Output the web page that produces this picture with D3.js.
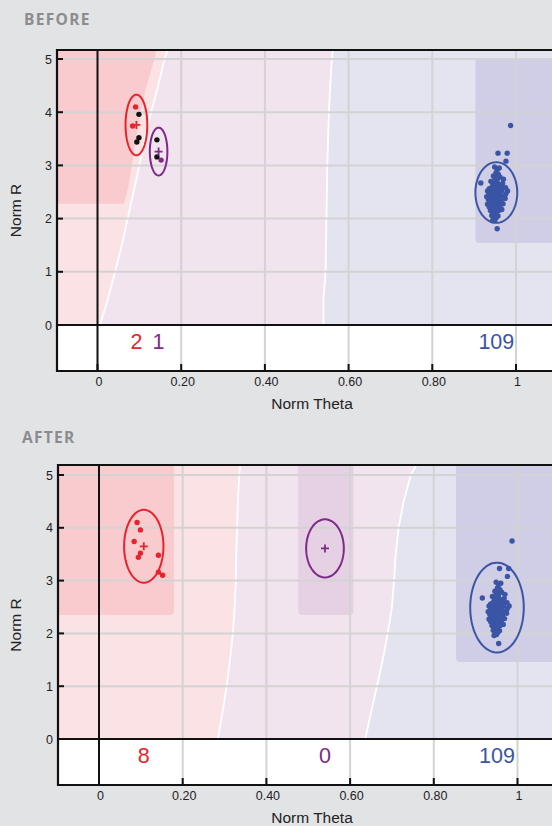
<!DOCTYPE html>
<html>
<head>
<meta charset="utf-8">
<script src="https://cdn.jsdelivr.net/npm/d3@7"></script>
<style>
  html, body { margin: 0; padding: 0; background: #e2e3e5; }
  svg { display: block; }
</style>
</head>
<body>
<svg id="chart" width="552" height="826"></svg>
<script>
// ---- axis ticks ----
const thetaTicks = [0, 0.2, 0.4, 0.6, 0.8, 1];
const thetaTickLabels = ["0", "0.20", "0.40", "0.60", "0.80", "1"];
const rTicks = [0, 1, 2, 3, 4, 5];
const rTickLabels = ["0", "1", "2", "3", "4", "5"];

// ---- groups ----
const groupNames = ["red", "purple", "blue"];

// ---- the eight points near the left edge (theta, R) and their group before / after ----
const smallTheta = [0.091, 0.084, 0.099, 0.099, 0.094, 0.142, 0.142, 0.152];
const smallR     = [4.10, 3.74, 3.96, 3.52, 3.44, 3.48, 3.16, 3.10];
const smallBefore = ["red", "red", "none", "none", "none", "none", "none", "purple"];
const smallAfter  = ["red", "red", "red", "red", "red", "red", "red", "red"];

// ---- the blue group (theta, R) ----
const bluePoints = [
  [0.987, 3.75], [0.957, 3.23], [0.979, 3.23], [0.976, 3.08], [0.955, 1.81], [0.916, 2.67], [0.980, 2.52], [0.953, 2.02],
  [0.949, 2.97], [0.955, 2.92], [0.960, 2.95], [0.952, 2.86], [0.958, 2.83], [0.946, 2.80], [0.962, 2.78], [0.950, 2.76],
  [0.955, 2.74], [0.970, 2.74],
  [0.940, 2.70], [0.945, 2.66], [0.951, 2.68], [0.957, 2.65], [0.962, 2.63], [0.968, 2.66], [0.943, 2.60], [0.948, 2.58],
  [0.953, 2.61], [0.959, 2.57], [0.965, 2.59], [0.936, 2.56], [0.975, 2.58],
  [0.932, 2.52], [0.938, 2.50], [0.944, 2.53], [0.949, 2.51], [0.954, 2.54], [0.960, 2.50], [0.966, 2.52], [0.976, 2.47],
  [0.935, 2.45], [0.941, 2.46], [0.946, 2.44], [0.951, 2.47], [0.957, 2.45], [0.963, 2.43], [0.973, 2.43], [0.930, 2.41],
  [0.943, 2.40], [0.955, 2.41], [0.961, 2.39],
  [0.934, 2.36], [0.939, 2.34], [0.944, 2.37], [0.949, 2.35], [0.953, 2.33], [0.958, 2.36], [0.964, 2.34], [0.974, 2.38],
  [0.937, 2.30], [0.942, 2.28], [0.947, 2.31], [0.952, 2.29], [0.957, 2.27], [0.962, 2.30], [0.969, 2.28], [0.932, 2.27],
  [0.945, 2.25], [0.955, 2.24],
  [0.936, 2.22], [0.941, 2.20], [0.946, 2.21], [0.950, 2.19], [0.956, 2.20], [0.961, 2.22], [0.939, 2.15], [0.944, 2.13],
  [0.949, 2.16], [0.954, 2.14], [0.959, 2.15], [0.966, 2.17], [0.947, 2.10], [0.952, 2.08],
  [0.942, 2.06], [0.957, 2.05], [0.946, 2.01], [0.950, 1.98], [0.944, 1.96],
  [0.948, 2.55], [0.951, 2.40], [0.947, 2.48], [0.953, 2.50], [0.950, 2.30], [0.945, 2.43], [0.956, 2.48], [0.949, 2.62],
  [0.954, 2.70], [0.952, 2.22], [0.958, 2.60], [0.943, 2.32], [0.960, 2.44], [0.948, 2.26], [0.951, 2.12], [0.955, 2.58],
  [0.946, 2.36], [0.963, 2.55], [0.940, 2.39], [0.957, 2.32], [0.952, 2.42], [0.949, 2.45]
];

// ---- group ellipses: centre and half-widths, per panel (red, purple, blue) ----
const beforeCenterTheta = [0.093, 0.146, 0.953];
const beforeCenterR     = [3.76, 3.26, 2.49];
const beforeHalfTheta   = [0.026, 0.021, 0.050];
const beforeHalfR       = [0.57, 0.45, 0.57];

const afterCenterTheta = [0.107, 0.540, 0.951];
const afterCenterR     = [3.65, 3.61, 2.49];
const afterHalfTheta   = [0.047, 0.045, 0.064];
const afterHalfR       = [0.69, 0.55, 0.85];

// ---- decision boundaries: theta of each split at the listed R values ----
const splitR = [0, 0.5, 1, 1.5, 2, 2.5, 3, 3.5, 4, 4.5, 5, 5.3];
const beforeRedEdge  = [0.006, 0.025, 0.042, 0.058, 0.072, 0.086, 0.100, 0.113, 0.128, 0.145, 0.160, 0.172];
const beforeBlueEdge = [0.540, 0.540, 0.545, 0.546, 0.547, 0.548, 0.549, 0.551, 0.553, 0.556, 0.560, 0.564];
const afterRedEdge   = [0.284, 0.295, 0.305, 0.313, 0.320, 0.324, 0.327, 0.328, 0.330, 0.332, 0.335, 0.339];
const afterBlueEdge  = [0.636, 0.650, 0.664, 0.678, 0.690, 0.700, 0.705, 0.709, 0.716, 0.728, 0.745, 0.766];

// ---- high-confidence zones ----
const beforeRedZoneR     = [2.28, 2.6, 3.0, 3.5, 4.0, 4.4, 4.7, 5.0, 5.3];
const beforeRedZoneTheta = [0.063, 0.074, 0.082, 0.092, 0.103, 0.114, 0.125, 0.136, 0.145];
const beforeBlueZone = [0.903, 1.54, 5.02];          // theta from, R from, R to
const afterRedZone    = [0.179, 2.35];               // theta to, R from
const afterPurpleZone = [0.476, 0.608, 2.35];        // theta from, theta to, R from
const afterBlueZone   = [0.853, 1.46];               // theta from, R from

// ---- styling ----
const ink = { red: "#e8232b", purple: "#7d2a88", blue: "#3a55a5", none: "#111111" };
const fill = {
  red: "#fbe3e5", redZone: "#f9cbce",
  purple: "#f2e4ee", purpleZone: "#e6d0e3",
  blue: "#e4e4f0", blueZone: "#d0cde6"
};
const sans = "'Liberation Sans', Arial, Helvetica, sans-serif";
const svg = d3.select("#chart");

function countOf(list, name) { return list.filter(c => c === name).length; }

function drawPanel(p) {
  const x = d3.scaleLinear().domain([0, 1]).range([p.x0, p.x1]);
  const y = d3.scaleLinear().domain([0, 5]).range([p.zeroY, p.fiveY]);
  const left = p.left, right = 560, top = p.top, bottom = p.bottom, zeroY = y(0);
  const g = svg.append("g");

  // title
  g.append("text").attr("x", p.titleX).attr("y", p.titleY)
    .attr("font-family", "'Open Sans', 'DejaVu Sans', sans-serif").attr("font-weight", 700)
    .attr("font-size", 15.5).attr("letter-spacing", 1.3).attr("fill", "#8b8c8e")
    .text(p.title);

  // plot clip
  const clipId = "clip-" + p.title;
  g.append("clipPath").attr("id", clipId).append("rect")
    .attr("x", left).attr("y", top).attr("width", right - left).attr("height", zeroY - top);
  const plot = g.append("g").attr("clip-path", `url(#${clipId})`);

  const edgeA = splitR.map((r, i) => [x(p.redEdge[i]), y(r)]);
  const edgeB = splitR.map((r, i) => [x(p.blueEdge[i]), y(r)]);
  const poly = d3.line().curve(d3.curveLinearClosed);
  const line = d3.line();
  const yHigh = y(splitR[splitR.length - 1]);

  plot.append("path").attr("fill", fill.red)
    .attr("d", poly([[left - 5, zeroY + 2], ...edgeA, [left - 5, yHigh]]));
  plot.append("path").attr("fill", fill.purple)
    .attr("d", poly([...edgeA, ...edgeB.slice().reverse()]));
  plot.append("path").attr("fill", fill.blue)
    .attr("d", poly([...edgeB, [right + 10, yHigh], [right + 10, zeroY + 2]]));

  // confidence zones
  p.zones(plot, x, y);

  // boundary lines
  [edgeA, edgeB].forEach(e => plot.append("path").attr("d", line(e))
    .attr("fill", "none").attr("stroke", "#ffffff").attr("stroke-width", 1.8));

  // horizontal grid
  plot.selectAll(".hg").data(rTicks.filter(r => r > 0)).enter().append("line")
    .attr("x1", left).attr("x2", right).attr("y1", d => y(d)).attr("y2", d => y(d))
    .attr("stroke", "#d3d3d3").attr("stroke-width", 2);

  // strip below R = 0
  g.append("rect").attr("x", left).attr("y", zeroY).attr("width", right - left)
    .attr("height", bottom - zeroY).attr("fill", "#ffffff");

  // vertical grid
  g.selectAll(".vg").data(thetaTicks.filter(t => t > 0)).enter().append("line")
    .attr("x1", d => x(d)).attr("x2", d => x(d)).attr("y1", top).attr("y2", bottom)
    .attr("stroke", "#d3d3d3").attr("stroke-width", 2);

  // theta = 0 line
  g.append("line").attr("x1", x(0)).attr("x2", x(0)).attr("y1", top).attr("y2", bottom)
    .attr("stroke", "#111").attr("stroke-width", 2);

  // frame
  g.append("path").attr("fill", "none").attr("stroke", "#111").attr("stroke-width", 2.2)
    .attr("d", `M${right},${top}H${left}V${bottom}H${right}M${left},${zeroY}H${right}`);

  // ticks
  g.selectAll(".yt").data(rTicks).enter().append("line")
    .attr("x1", left).attr("x2", left + 6).attr("y1", d => y(d)).attr("y2", d => y(d))
    .attr("stroke", "#111").attr("stroke-width", 2);
  g.selectAll(".xt").data(thetaTicks).enter().append("line")
    .attr("x1", d => x(d)).attr("x2", d => x(d)).attr("y1", bottom).attr("y2", bottom - 7)
    .attr("stroke", "#111").attr("stroke-width", 2);

  // tick labels
  g.selectAll(".yl").data(rTicks).enter().append("text")
    .attr("x", left - 5).attr("y", d => y(d) + 4.5).attr("text-anchor", "end")
    .attr("font-family", sans).attr("font-size", 12.5).attr("fill", "#222")
    .text((d, i) => rTickLabels[i]);
  g.selectAll(".xl").data(thetaTicks).enter().append("text")
    .attr("x", d => x(d) + 1.5).attr("y", bottom + 15).attr("text-anchor", "middle")
    .attr("font-family", sans).attr("font-size", 12.5).attr("fill", "#222")
    .text((d, i) => thetaTickLabels[i]);

  // axis titles
  g.append("text").attr("x", 312).attr("y", bottom + 38).attr("text-anchor", "middle")
    .attr("font-family", sans).attr("font-size", 15.5).attr("fill", "#222").text("Norm Theta");
  g.append("text").attr("transform", `translate(21,${(top + bottom) / 2}) rotate(-90)`)
    .attr("text-anchor", "middle").attr("font-family", sans).attr("font-size", 15.5)
    .attr("fill", "#222").text("Norm R");

  // ellipses and group centres
  const ellipse = d3.line().curve(d3.curveLinearClosed);
  groupNames.forEach((name, i) => {
    const pts = d3.range(90).map(k => {
      const a = (k / 90) * 2 * Math.PI;
      return [x(p.cT[i] + p.hT[i] * Math.cos(a)), y(p.cR[i] + p.hR[i] * Math.sin(a))];
    });
    g.append("path").attr("d", ellipse(pts)).attr("fill", "none")
      .attr("stroke", ink[name]).attr("stroke-width", 2);
  });

  // points
  g.selectAll(".bp").data(bluePoints).enter().append("circle")
    .attr("cx", d => x(d[0])).attr("cy", d => y(d[1])).attr("r", 2.7).attr("fill", ink.blue);
  g.selectAll(".sp").data(smallTheta).enter().append("circle")
    .attr("cx", d => x(d)).attr("cy", (d, i) => y(smallR[i])).attr("r", 2.7)
    .attr("fill", (d, i) => ink[p.groups[i]]);

  groupNames.forEach((name, i) => {
    g.append("path").attr("transform", `translate(${x(p.cT[i])},${y(p.cR[i])})`)
      .attr("d", "M-4,0H4M0,-4V4").attr("stroke", ink[name]).attr("stroke-width", 1.8);
  });

  // counts per group
  const counts = [countOf(p.groups, "red"), countOf(p.groups, "purple"), bluePoints.length];
  groupNames.forEach((name, i) => {
    g.append("text").attr("x", x(p.cT[i])).attr("y", zeroY + 24).attr("text-anchor", "middle")
      .attr("font-family", sans).attr("font-size", 21.5).attr("fill", ink[name])
      .text(counts[i]);
  });
}

drawPanel({
  title: "BEFORE", titleX: 24, titleY: 25,
  left: 57, top: 50, bottom: 371,
  x0: 97.5, x1: 516, zeroY: 325, fiveY: 59,
  redEdge: beforeRedEdge, blueEdge: beforeBlueEdge,
  cT: beforeCenterTheta, cR: beforeCenterR, hT: beforeHalfTheta, hR: beforeHalfR,
  groups: smallBefore,
  zones: (plot, x, y) => {
    const pts = [[40, y(beforeRedZoneR[0])],
      ...beforeRedZoneR.map((r, i) => [x(beforeRedZoneTheta[i]), y(r)]),
      [40, y(beforeRedZoneR[beforeRedZoneR.length - 1])]];
    plot.append("path").attr("fill", fill.redZone).attr("d", d3.line().curve(d3.curveLinearClosed)(pts));
    plot.append("rect").attr("x", x(beforeBlueZone[0])).attr("y", y(beforeBlueZone[2]))
      .attr("width", 600 - x(beforeBlueZone[0])).attr("height", y(beforeBlueZone[1]) - y(beforeBlueZone[2]))
      .attr("rx", 4).attr("fill", fill.blueZone);
  }
});

drawPanel({
  title: "AFTER", titleX: 22, titleY: 443,
  left: 58, top: 465, bottom: 785,
  x0: 99, x1: 517.5, zeroY: 739, fiveY: 475,
  redEdge: afterRedEdge, blueEdge: afterBlueEdge,
  cT: afterCenterTheta, cR: afterCenterR, hT: afterHalfTheta, hR: afterHalfR,
  groups: smallAfter,
  zones: (plot, x, y) => {
    plot.append("rect").attr("x", 40).attr("y", 455)
      .attr("width", x(afterRedZone[0]) - 40).attr("height", y(afterRedZone[1]) - 455)
      .attr("rx", 4).attr("fill", fill.redZone);
    plot.append("rect").attr("x", x(afterPurpleZone[0])).attr("y", 455)
      .attr("width", x(afterPurpleZone[1]) - x(afterPurpleZone[0])).attr("height", y(afterPurpleZone[2]) - 455)
      .attr("rx", 4).attr("fill", fill.purpleZone);
    plot.append("rect").attr("x", x(afterBlueZone[0])).attr("y", 455)
      .attr("width", 600 - x(afterBlueZone[0])).attr("height", y(afterBlueZone[1]) - 455)
      .attr("rx", 4).attr("fill", fill.blueZone);
  }
});
</script>
</body>
</html>
